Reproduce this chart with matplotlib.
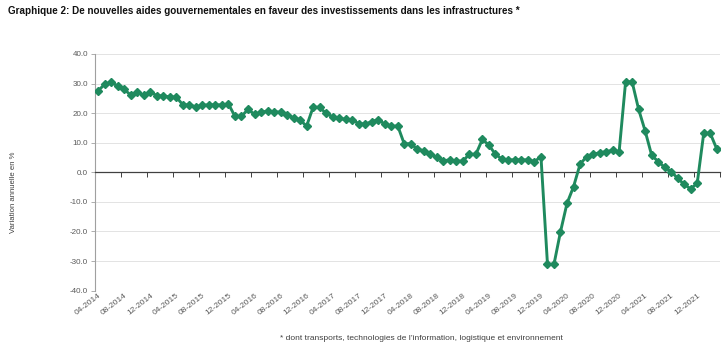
import matplotlib
matplotlib.use("Agg")
import matplotlib.pyplot as plt
import numpy as np

plt.rcParams['font.family'] = ['Liberation Sans', 'DejaVu Sans']

title = "Graphique 2: De nouvelles aides gouvernementales en faveur des investissements dans les infrastructures *"
ylabel = "Variation annuelle en %"
footnote = "* dont transports, technologies de l\u2019information, logistique et environnement"

start_year, start_month = 2014, 4
values = [
    27.6, 29.8, 30.4, 29.2, 28.0, 26.1, 27.0, 26.1, 27.2, 25.9, 25.8, 25.5,
    25.4, 22.8, 22.8, 22.1, 22.7, 22.8, 22.8, 22.8, 23.1, 18.9, 18.9, 21.3,
    19.6, 20.3, 20.7, 20.5, 20.3, 19.4, 18.5, 17.7, 15.6, 22.0, 22.0, 19.9,
    18.8, 18.2, 17.9, 17.7, 16.5, 16.3, 17.1, 17.8, 16.3, 15.5, 15.7, 9.6,
    9.7, 7.8, 7.3, 6.1, 5.1, 3.9, 4.2, 3.8, 3.8, 6.1, 6.1, 11.1,
    9.2, 6.1, 4.5, 4.2, 4.2, 4.2, 4.2, 3.6, 5.3, -31.1, -31.1, -20.1,
    -10.5, -4.9, 2.7, 5.3, 6.1, 6.6, 7.0, 7.4, 6.8, 30.6, 30.6, 21.3,
    14.0, 5.8, 3.6, 1.7, 0.2, -2.0, -4.1, -5.6, -3.7, 13.2, 13.2, 7.9,
]
n = len(values)
months = [f"{(start_month - 1 + i) % 12 + 1:02d}-{start_year + (start_month - 1 + i) // 12}" for i in range(n)]
label_idx = list(range(0, n, 4))
yticks = list(range(-40, 41, 10))

fig = plt.figure(figsize=(7.25, 3.5), dpi=100)
ax = fig.add_axes([95/725, 1 - 290.6/350, 625/725, (290.6 - 54)/350])

x = np.arange(n)
ax.plot(x, values, color='#1f8a5e', lw=2.1, marker='D', ms=3.8, mec='#1f8a5e', mfc='#1f8a5e', zorder=3)

ax.set_xlim(-0.5, n - 0.5)
ax.set_ylim(-40, 40)
ax.set_yticks(yticks)
ax.set_yticklabels([f"{v:.1f}" for v in yticks], fontsize=5.8, color='#595959')
ax.tick_params(axis='y', length=3, width=0.6, color='#a0a0a0', pad=2)
for v in yticks:
    if v != 0:
        ax.axhline(v, color='#e3e3e3', lw=0.7, zorder=0)

for s in ['top', 'right']:
    ax.spines[s].set_visible(False)
ax.spines['left'].set_color('#a0a0a0')
ax.spines['left'].set_linewidth(0.8)
ax.spines['bottom'].set_position(('data', 0))
ax.spines['bottom'].set_color('#404040')
ax.spines['bottom'].set_linewidth(0.9)
ax.set_xticks(np.arange(-0.5, n, 4))
ax.set_xticklabels([])
ax.tick_params(axis='x', length=3.5, width=0.7, color='#404040', direction='out')

sec = ax.secondary_xaxis(0)
sec.set_xticks(label_idx)
sec.set_xticklabels([months[i] for i in label_idx], rotation=38, ha='right',
                    rotation_mode='anchor', fontsize=6, color='#595959')
sec.tick_params(axis='x', length=0, pad=1)
sec.spines['bottom'].set_visible(False)

fig.text(8/725, 1 - 11/350, title, fontsize=7.15, fontweight='bold', ha='left', va='center', color='#111111')
fig.text(14/725, 1 - 192/350, ylabel, fontsize=5.6, rotation=90, ha='center', va='center', color='#404040')
fig.text(421/725, 1 - 338/350, footnote, fontsize=6.0, ha='center', va='center', color='#404040')

fig.savefig('out.png', dpi=100)
